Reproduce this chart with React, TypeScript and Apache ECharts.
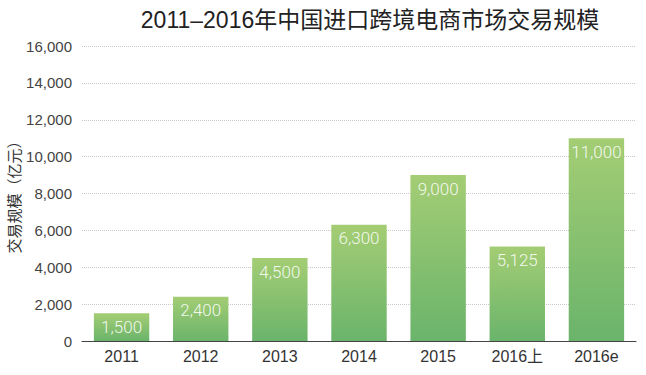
import React, { useEffect, useRef } from "react";
import * as echarts from "echarts";

const categories = ["2011", "2012", "2013", "2014", "2015", "2016上", "2016e"];
const values = [1500, 2400, 4500, 6300, 9000, 5125, 11000];
const titleText = "2011–2016年中国进口跨境电商市场交易规模";
const yName = "交易规模（亿元）";

export default function App() {
  const ref = useRef<HTMLDivElement>(null);
  useEffect(() => {
    document.body.style.margin = "0";
    const chart = echarts.init(ref.current!, null, { renderer: "svg" });
    const font = "'Helvetica Neue', Helvetica, Arial, 'Liberation Sans', 'Noto Sans CJK SC', sans-serif";
    const light = "Roboto, 'Noto Sans CJK SC', sans-serif";
    chart.setOption({
      animation: false,
      backgroundColor: "#ffffff",
      title: {
        text: titleText,
        left: 365,
        textAlign: "center",
        top: 3,
        textStyle: { fontSize: 23, fontWeight: "normal", color: "#222", fontFamily: font },
      },
      grid: { left: 82, right: 10, top: 46, bottom: 34, containLabel: false, outerBoundsMode: "none" },
      xAxis: {
        type: "category",
        data: categories,
        axisLine: { lineStyle: { color: "#444", width: 1 } },
        axisTick: { show: false },
        axisLabel: { color: "#333", fontSize: 16, margin: 7, fontFamily: font },
      },
      yAxis: {
        type: "value",
        min: 0,
        max: 16000,
        interval: 2000,
        name: yName,
        nameLocation: "middle",
        nameGap: 60,
        nameMoveOverlap: false,
        nameRotate: 90,
        nameTextStyle: { color: "#333", fontSize: 15, fontFamily: font },
        axisLine: { show: false },
        axisTick: { show: false },
        axisLabel: {
          color: "#444",
          fontSize: 15,
          margin: 10,
          fontFamily: font,
          formatter: (v: number) => v.toLocaleString("en-US"),
        },
        splitLine: { lineStyle: { color: "#c8c8c8", type: [1, 1], width: 1 } },
      },
      series: [
        {
          type: "bar",
          data: values,
          barCategoryGap: "30%",
          itemStyle: {
            color: new echarts.graphic.LinearGradient(0, 0, 0, 1, [
              { offset: 0, color: "#a4cd74" },
              { offset: 1, color: "#6ab46b" },
            ]),
          },
          label: {
            show: true,
            position: "insideTop",
            distance: 5,
            color: "rgba(255,255,255,0.9)",
            fontSize: 17,
            fontWeight: 300,
            fontFamily: light,
            formatter: (p: any) => Number(p.value).toLocaleString("en-US"),
          },
        },
      ],
    });
    return () => chart.dispose();
  }, []);
  return <div ref={ref} style={{ width: 646, height: 375 }} />;
}
